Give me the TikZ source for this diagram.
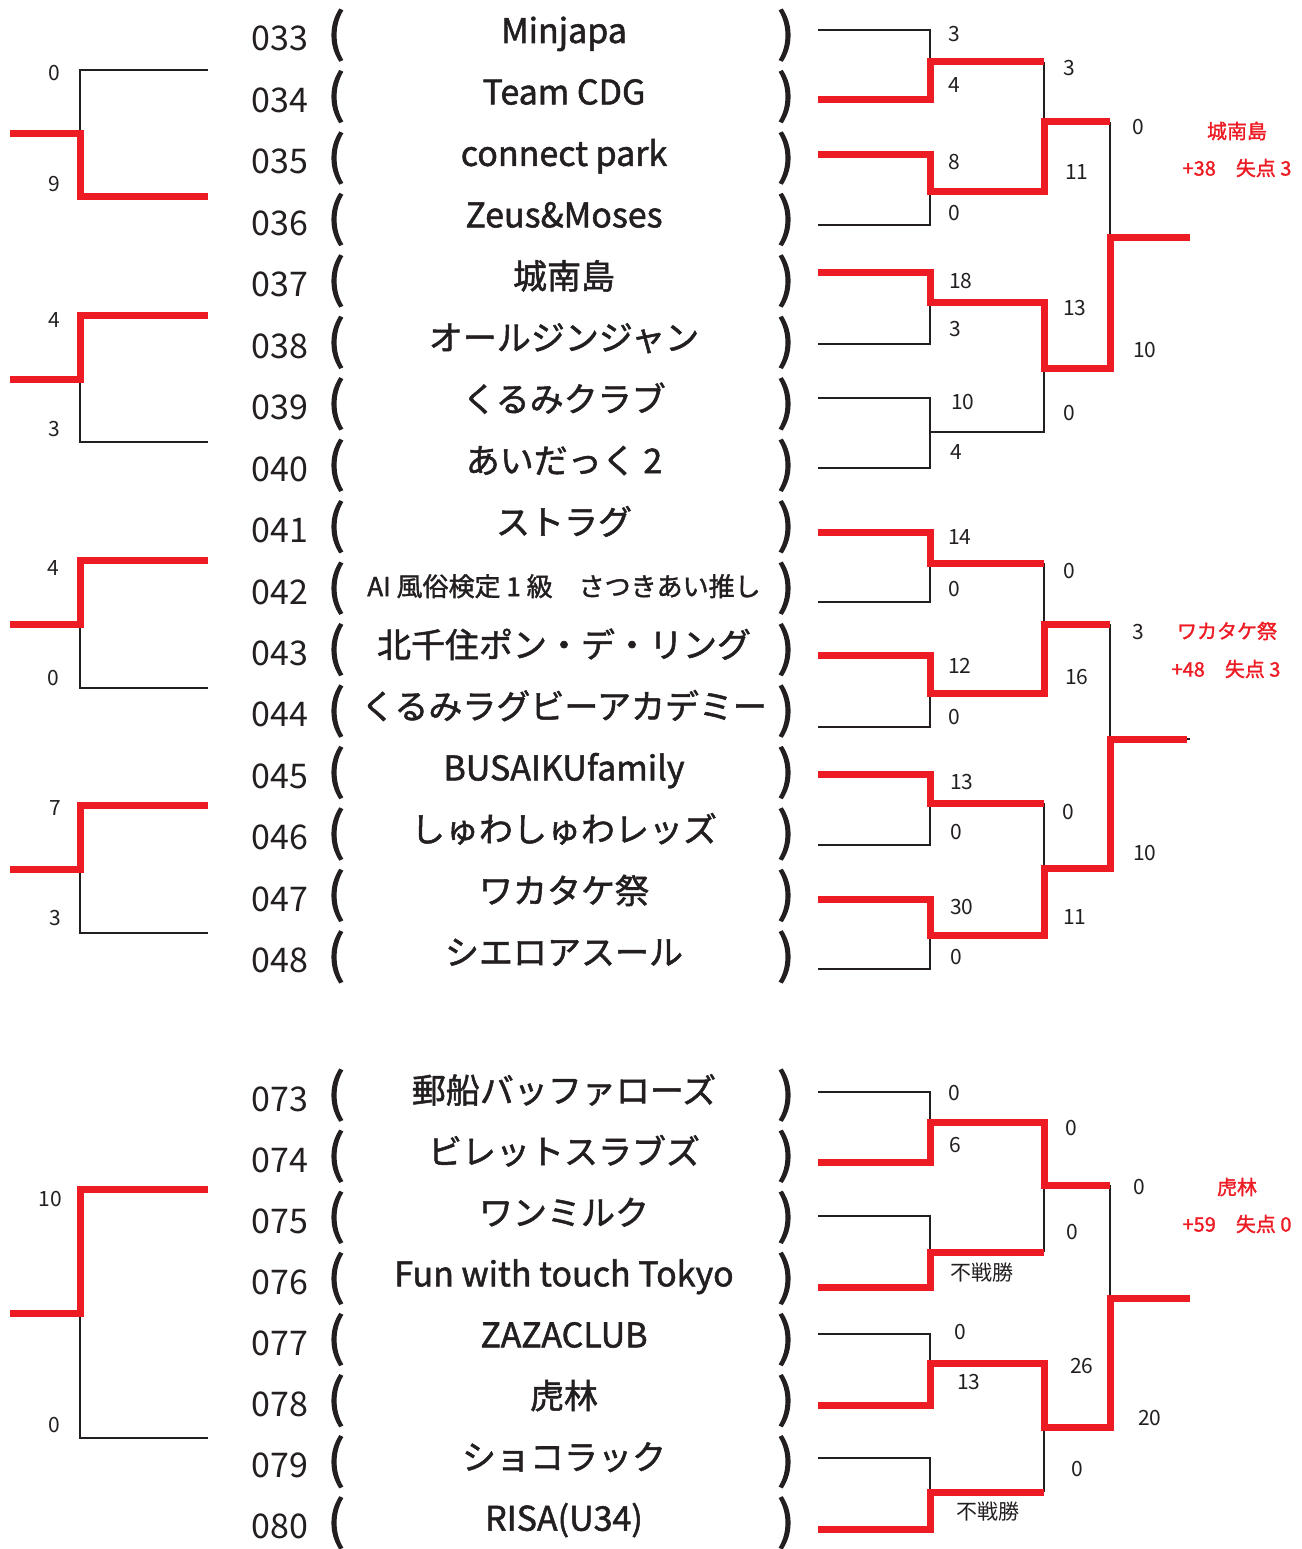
\documentclass[tikz,border=0pt]{standalone}
\usepackage{fontspec}
\setmainfont{Noto Sans CJK JP}
\newfontfamily\namefont{Noto Sans CJK JP}[FakeBold=1.5]
\newfontfamily\parenfont{Noto Sans CJK JP}[FakeBold=2.5]
\definecolor{bracketred}{HTML}{ED1C24}
\definecolor{ink}{HTML}{231F20}
\tikzset{
  win/.style={draw=bracketred, line width=7pt},
  lose/.style={draw=ink, line width=2pt},
  seed/.style={font=\fontsize{34}{34}\selectfont, text=ink, inner sep=0pt, anchor=base},
  teamname/.style={font=\namefont\fontsize{34}{34}\selectfont, text=ink, inner sep=0pt, anchor=base},
  paren/.style={font=\parenfont\fontsize{51}{51}\selectfont, text=ink, inner sep=0pt, anchor=base},
  pts/.style={font=\fontsize{21}{21}\selectfont, text=ink, inner sep=0pt, anchor=west},
  champ/.style={font=\namefont\fontsize{20}{20}\selectfont, text=bracketred, inner sep=0pt},
}
\begin{document}
\begin{tikzpicture}[x=1pt, y=-1pt]
  \useasboundingbox (0,0) rectangle (1301,1549);

  % team list
  \foreach \no/\name [count=\i from 0] in {033/Minjapa, 034/Team CDG, 035/connect park, 036/Zeus\&Moses,
      037/城南島, 038/オールジンジャン, 039/くるみクラブ, 040/あいだっく 2,
      041/ストラグ, 042/{\fontsize{26}{26}\selectfont AI 風俗検定 1 級　さつきあい推し}, 043/北千住ポン・デ・リング, 044/くるみラグビーアカデミー,
      045/BUSAIKUfamily, 046/しゅわしゅわレッズ, 047/ワカタケ祭, 048/シエロアスール} {
    \node[seed] (n\no) at (280, 51+61.45*\i) {\no};
    \node[paren] (l\no) at (336, 51+61.45*\i) {(};
    \node[teamname] (t\no) at (564, 43+61.45*\i) {\name};
    \node[paren] (r\no) at (786, 51+61.45*\i) {)};
  }
  \foreach \no/\name [count=\i from 0] in {073/郵船バッファローズ, 074/ビレットスラブズ, 075/ワンミルク, 076/Fun with touch Tokyo,
      077/ZAZACLUB, 078/虎林, 079/ショコラック, 080/RISA(U34)} {
    \node[seed] (n\no) at (280, 1111+61.1*\i) {\no};
    \node[paren] (l\no) at (336, 1111+61.1*\i) {(};
    \node[teamname] (t\no) at (564, 1103+61.1*\i) {\name};
    \node[paren] (r\no) at (786, 1111+61.1*\i) {)};
  }

  % left brackets
  \draw[lose] (208,70) -- (80,70) -- (80,134);
  \draw[win] (10,134) -- (80,134) -- (80,197) -- (208,197);
  \draw[lose] (80,379) -- (80,442) -- (208,442);
  \draw[win] (208,315) -- (80,315) -- (80,379) -- (10,379);
  \draw[lose] (80,624) -- (80,688) -- (208,688);
  \draw[win] (208,560) -- (80,560) -- (80,624) -- (10,624);
  \draw[lose] (80,869) -- (80,933) -- (208,933);
  \draw[win] (208,805) -- (80,805) -- (80,869) -- (10,869);
  \draw[lose] (80,1313) -- (80,1438) -- (208,1438);
  \draw[win] (208,1189) -- (80,1189) -- (80,1313) -- (10,1313);

  % right bracket, 033-040
  \draw[lose] (818,30) -- (930,30) -- (930,62);
  \draw[lose] (818,225) -- (930,225) -- (930,192);
  \draw[lose] (1044,62) -- (1044,122);
  \draw[lose] (818,344) -- (930,344) -- (930,302);
  \draw[lose] (818,398) -- (930,398) -- (930,468) -- (818,468);
  \draw[lose] (930,432) -- (1044,432) -- (1044,368);
  \draw[lose] (1110,122) -- (1110,237);
  \draw[win] (818,100) -- (930,100) -- (930,62) -- (1044,62);
  \draw[win] (818,155) -- (930,155) -- (930,192) -- (1044,192) -- (1044,122) -- (1110,122);
  \draw[win] (818,272) -- (930,272) -- (930,302) -- (1044,302) -- (1044,368) -- (1110,368) -- (1110,237) -- (1190,237);

  % right bracket, 041-048
  \draw[lose] (818,602) -- (930,602) -- (930,563);
  \draw[lose] (1044,563) -- (1044,624);
  \draw[lose] (818,727) -- (930,727) -- (930,693);
  \draw[lose] (1110,624) -- (1110,739) -- (1190,739);
  \draw[lose] (818,845) -- (930,845) -- (930,803);
  \draw[lose] (1044,803) -- (1044,868);
  \draw[lose] (818,969) -- (930,969) -- (930,935);
  \draw[win] (818,532) -- (930,532) -- (930,563) -- (1044,563);
  \draw[win] (818,655) -- (930,655) -- (930,693) -- (1044,693) -- (1044,624) -- (1110,624);
  \draw[win] (818,774) -- (930,774) -- (930,803) -- (1044,803);
  \draw[win] (818,899) -- (930,899) -- (930,935) -- (1044,935) -- (1044,868) -- (1110,868) -- (1110,739) -- (1187,739);

  % right bracket, 073-080
  \draw[lose] (818,1092) -- (930,1092) -- (930,1122);
  \draw[lose] (818,1216) -- (930,1216) -- (930,1252);
  \draw[lose] (1044,1252) -- (1044,1185);
  \draw[lose] (1110,1185) -- (1110,1298);
  \draw[lose] (818,1334) -- (930,1334) -- (930,1363);
  \draw[lose] (818,1458) -- (930,1458) -- (930,1492);
  \draw[lose] (1044,1492) -- (1044,1427);
  \draw[win] (818,1162) -- (930,1162) -- (930,1122) -- (1044,1122) -- (1044,1185) -- (1110,1185);
  \draw[win] (818,1287) -- (930,1287) -- (930,1252) -- (1044,1252);
  \draw[win] (818,1405) -- (930,1405) -- (930,1363) -- (1044,1363) -- (1044,1427) -- (1110,1427) -- (1110,1298) -- (1190,1298);
  \draw[win] (818,1529) -- (930,1529) -- (930,1492) -- (1044,1492);

  % scores
  \foreach \px/\py/\v [count=\k] in {948/34/3, 948/85/4, 948/162/8, 948/213/0, 949/281/18, 949/329/3, 951/402/10, 950/452/4,
      1063/68/3, 1065/172/11, 1063/308/13, 1063/413/0, 1132/127/0, 1133/350/10,
      948/537/14, 948/589/0, 948/666/12, 948/717/0, 950/782/13, 950/832/0, 950/907/30, 950/957/0,
      1063/571/0, 1065/677/16, 1062/812/0, 1063/917/11, 1132/632/3, 1133/853/10,
      948/1093/0, 949/1145/6, 950/1273/不戦勝, 954/1332/0, 957/1382/13, 956/1512/不戦勝,
      1065/1128/0, 1066/1232/0, 1070/1366/26, 1071/1469/0, 1133/1187/0, 1138/1418/20}
    \node[pts] (s\k) at (\px,\py) {\v};
  \foreach \px/\py/\v [count=\k] in {54/73/0, 54/184/9, 54/320/4, 54/429/3, 53/568/4, 53/678/0, 55/808/7, 55/918/3, 50/1199/10, 54/1425/0}
    \node[pts, anchor=center] (p\k) at (\px,\py) {\v};

  % block winners
  \node[champ] (w1) at (1237,131) {城南島};
  \node[champ] (w1pts) at (1237,168) {+38　失点 3};
  \node[champ] (w2) at (1227,631) {ワカタケ祭};
  \node[champ] (w2pts) at (1226,669) {+48　失点 3};
  \node[champ] (w3) at (1237,1187) {虎林};
  \node[champ] (w3pts) at (1237,1224) {+59　失点 0};
\end{tikzpicture}
\end{document}
